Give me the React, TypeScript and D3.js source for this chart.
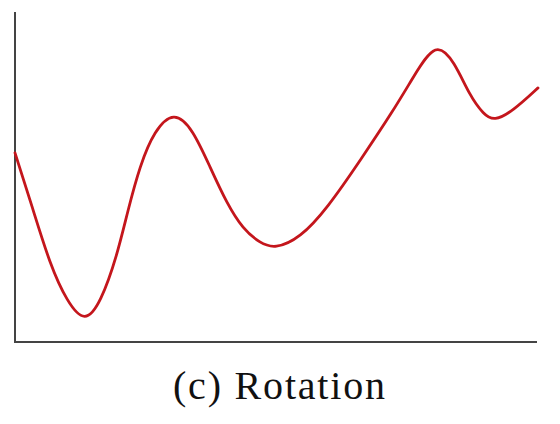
import React from "react";
import * as d3 from "d3";

const xs = [0, 3.44, 6.69, 9.94, 13.38, 16.4, 19.5, 21.6, 23.9, 26.6, 30.4, 34.0, 37.3, 40.5, 43.6, 46.8, 49.7, 54.5, 59.7, 66.0, 72.3, 76.3, 80.5, 84.0, 87.0, 89.6, 91.6, 95.2, 100];
const ys = [5.73, 4.02, 2.35, 1.22, 0.56, 1.2, 2.6, 4.0, 5.35, 6.4, 7.01, 6.45, 5.3, 4.2, 3.42, 3.0, 2.82, 3.15, 4.05, 5.5, 7.0, 8.07, 9.13, 8.5, 7.45, 6.9, 6.69, 7.0, 7.7];
const caption = "(c) Rotation";

export default function App() {
  const x = d3.scaleLinear().domain([0, 100]).range([15, 538]);
  const y = d3.scaleLinear().domain([0, 10]).range([342, 12]);
  const data = xs.map((v, i) => [v, ys[i]] as [number, number]);
  const line = d3
    .line<[number, number]>()
    .x((d) => x(d[0]))
    .y((d) => y(d[1]))
    .curve(d3.curveBasis);
  return (
    <svg
      width={560}
      height={424}
      style={{ position: "absolute", left: 0, top: 0, background: "#fff" }}
    >
      <line x1={x(0)} x2={x(0)} y1={y(10)} y2={y(0)} stroke="#444" strokeWidth={2} />
      <line x1={x(0) - 1} x2={537} y1={y(0)} y2={y(0)} stroke="#444" strokeWidth={2} />
      <path d={line(data) || ""} fill="none" stroke="#c4161c" strokeWidth={2.8} strokeLinejoin="round" strokeLinecap="round" />
      <text
        x={173}
        y={399}
        fontFamily="'Liberation Serif', serif"
        fontSize={40}
        fill="#111"
        textLength={212}
        lengthAdjust="spacing"
      >
        {caption}
      </text>
    </svg>
  );
}
